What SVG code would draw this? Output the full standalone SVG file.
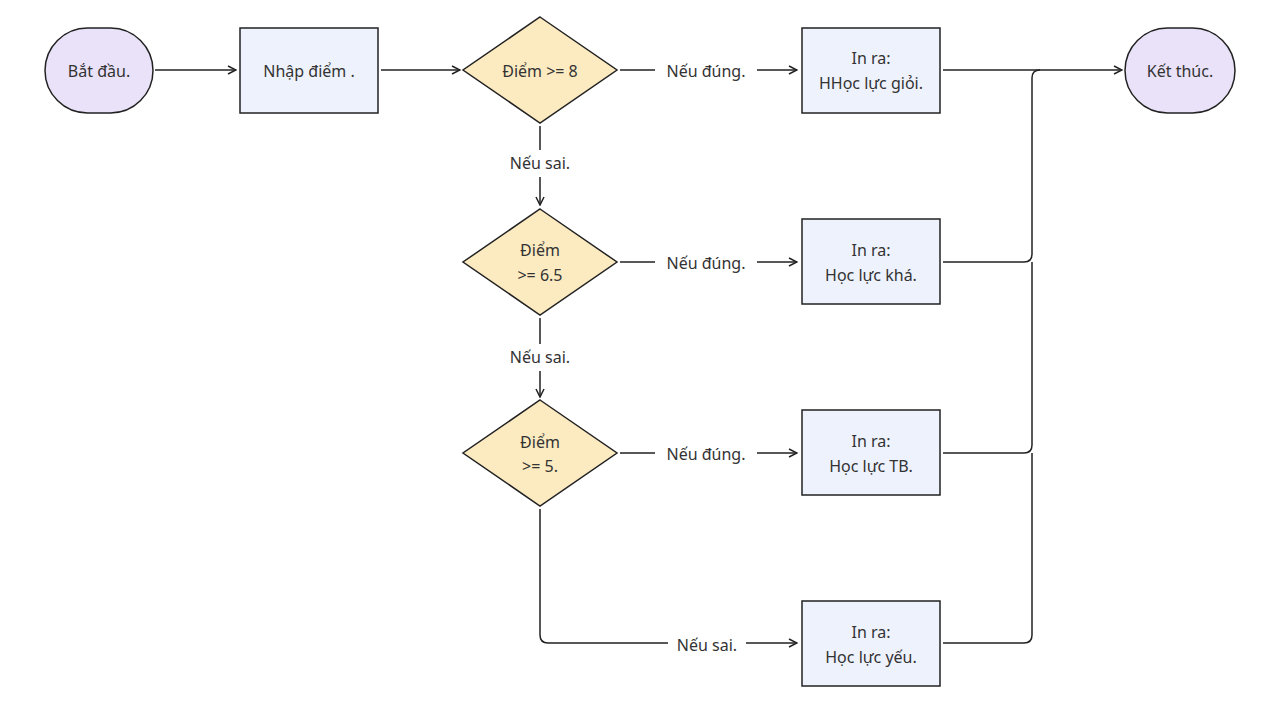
<svg xmlns="http://www.w3.org/2000/svg" width="1280" height="705" viewBox="0 0 1280 705">
<style>
text{font-family:"Noto Sans","Liberation Sans",sans-serif;font-size:16px;fill:#333;text-anchor:middle;dominant-baseline:central}
.term{fill:#e9e2f9;stroke:#222;stroke-width:1.5}
.proc{fill:#eef2fd;stroke:#222;stroke-width:1.5}
.dec{fill:#fcebc1;stroke:#222;stroke-width:1.5}
.c{fill:none;stroke:#222;stroke-width:1.5}
</style>
<defs>
<marker id="a" viewBox="0 0 10 10" refX="9" refY="5" markerWidth="10" markerHeight="10" markerUnits="userSpaceOnUse" orient="auto">
<path d="M1,1 L9,5 L1,9" fill="none" stroke="#222" stroke-width="1.5"/>
</marker>
</defs>
<rect width="1280" height="705" fill="#fff"/>
<g id="connectors">
<path class="c" d="M155,70 H236" marker-end="url(#a)"/>
<path class="c" d="M381,70 H460" marker-end="url(#a)"/>
<path class="c" d="M620,70 H655 M757,70 H797" marker-end="url(#a)"/>
<path class="c" d="M620,262 H655 M757,262 H797" marker-end="url(#a)"/>
<path class="c" d="M620,453 H655 M757,453 H797" marker-end="url(#a)"/>
<path class="c" d="M540,126 V150 M540,177 V205" marker-end="url(#a)"/>
<path class="c" d="M540,318 V344 M540,371 V397" marker-end="url(#a)"/>
<path class="c" d="M540,509 V635 Q540,643 548,643 H668 M746,643 H797" marker-end="url(#a)"/>
<path class="c" d="M943,70 H1122" marker-end="url(#a)"/>
<path class="c" d="M943,262 H1024 Q1032,262 1032,254 V78 Q1032,70 1040,70"/>
<path class="c" d="M943,453 H1024 Q1032,453 1032,445 V262"/>
<path class="c" d="M943,643 H1024 Q1032,643 1032,635 V453"/>
<text x="706" y="71">Nếu đúng.</text>
<text x="706" y="263">Nếu đúng.</text>
<text x="706" y="454">Nếu đúng.</text>
<text x="540" y="163">Nếu sai.</text>
<text x="540" y="357">Nếu sai.</text>
<text x="707" y="645">Nếu sai.</text>
</g>
<g id="start"><rect class="term" x="45" y="28" width="108" height="85" rx="42.5"/><text x="99" y="71">Bắt đầu.</text></g>
<g id="input"><rect class="proc" x="240" y="28" width="138" height="85"/><text x="309" y="71">Nhập điểm .</text></g>
<g id="d1"><polygon class="dec" points="540,17 617,70 540,123 463,70"/><text x="540" y="71">Điểm &gt;= 8</text></g>
<g id="d2"><polygon class="dec" points="540,209 617,262 540,315 463,262"/><text x="540" y="250">Điểm</text><text x="540" y="275">&gt;= 6.5</text></g>
<g id="d3"><polygon class="dec" points="540,400 617,453 540,506 463,453"/><text x="540" y="442">Điểm</text><text x="540" y="466">&gt;= 5.</text></g>
<g id="r1"><rect class="proc" x="802" y="28" width="138" height="85"/><text x="871" y="58">In ra:</text><text x="871" y="83">HHọc lực giỏi.</text></g>
<g id="r2"><rect class="proc" x="802" y="219" width="138" height="85"/><text x="871" y="250">In ra:</text><text x="871" y="275">Học lực khá.</text></g>
<g id="r3"><rect class="proc" x="802" y="410" width="138" height="85"/><text x="871" y="441">In ra:</text><text x="871" y="466">Học lực TB.</text></g>
<g id="r4"><rect class="proc" x="802" y="601" width="138" height="85"/><text x="871" y="632">In ra:</text><text x="871" y="657">Học lực yếu.</text></g>
<g id="end"><rect class="term" x="1125" y="28" width="110" height="85" rx="42.5"/><text x="1180" y="71">Kết thúc.</text></g>
</svg>
